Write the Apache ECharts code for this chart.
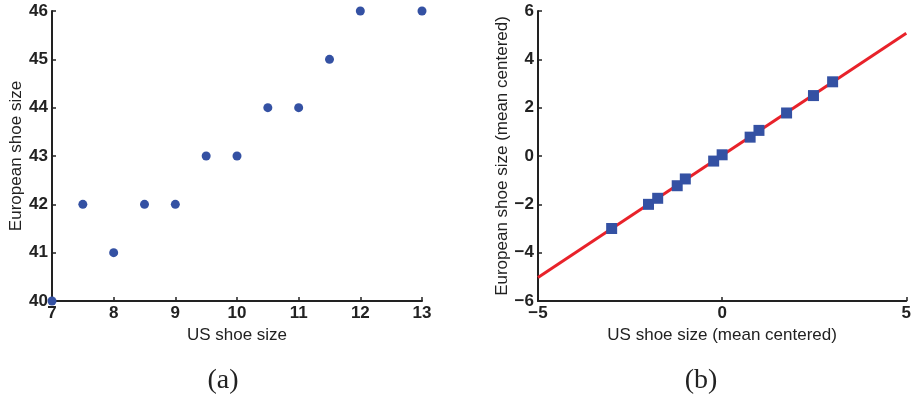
<!DOCTYPE html>
<html>
<head>
<meta charset="utf-8">
<script src="https://cdn.jsdelivr.net/npm/echarts@6/dist/echarts.min.js"></script>
<style>
  html, body { margin: 0; padding: 0; background: #fff; }
  #main { width: 914px; height: 402px; }
</style>
</head>
<body>
<div id="main"></div>
<script>
// Data: panel (a), raw sizes
var usSizes = [7, 7.5, 8, 8.5, 9, 9.5, 10, 10.5, 11, 11.5, 12, 13];
var euSizes = [40, 42, 41, 42, 42, 43, 43, 44, 44, 45, 46, 46];

// Data: panel (b), mean centered
var usCentered = [-3, -2, -1.75, -1.22, -1, -0.23, 0, 0.76, 1, 1.75, 2.48, 3];
var euCentered = [-3, -2, -1.75, -1.23, -0.95, -0.21, 0.05, 0.78, 1.06, 1.78, 2.5, 3.07];

// fitted line end points
var fitX = [-5, 5];
var fitY = [-5.03, 5.08];

var captions = ['(a)', '(b)'];

var myChart,
  ink = '#222',
  blue = '#3451a3';

/**
 * @name pairs
 * @desc zip two arrays into [x, y] points
 */
function pairs(xs, ys) {
  return xs.map(function (x, i) { return [x, ys[i]]; });
}

function minusSign(v) {
  return String(v).replace('-', '\u2212');
}

function makeAxis(gridIndex, min, max, interval, name, nameGap) {
  return {
    type: 'value',
    gridIndex: gridIndex,
    min: min,
    max: max,
    interval: interval,
    name: name,
    nameLocation: 'middle',
    nameGap: nameGap,
    nameTextStyle: {
      fontFamily: 'Liberation Sans',
      fontSize: 17,
      color: ink
    },
    axisLine: { show: true, onZero: false, lineStyle: { color: ink, width: 2 } },
    axisTick: { show: true, inside: true, length: 4, lineStyle: { color: ink, width: 1.5 } },
    axisLabel: {
      margin: 4,
      fontFamily: 'Liberation Sans',
      fontWeight: 'bold',
      fontSize: 17,
      color: ink,
      formatter: minusSign
    },
    splitLine: { show: false }
  };
}

function paint() {
  myChart = echarts.init(document.getElementById('main'));

  var option = {
    animation: false,
    grid: [
      { left: 52, right: 492, top: 11, bottom: 101 },
      { left: 538, right: 6, top: 11, bottom: 101 }
    ],
    xAxis: [
      makeAxis(0, 7, 13, 1, 'US shoe size', 24),
      makeAxis(1, -5, 5, 5, 'US shoe size (mean centered)', 24)
    ],
    yAxis: [
      makeAxis(0, 40, 46, 1, 'European shoe size', 27),
      makeAxis(1, -6, 6, 2, 'European shoe size (mean centered)', 26)
    ],
    graphic: [
      {
        type: 'text',
        x: 223,
        y: 381,
        style: {
          text: captions[0],
          font: '28px "Liberation Serif"',
          fill: ink,
          textAlign: 'center',
          textVerticalAlign: 'middle'
        }
      },
      {
        type: 'text',
        x: 701,
        y: 381,
        style: {
          text: captions[1],
          font: '28px "Liberation Serif"',
          fill: ink,
          textAlign: 'center',
          textVerticalAlign: 'middle'
        }
      }
    ],
    series: [
      {
        type: 'scatter',
        xAxisIndex: 0,
        yAxisIndex: 0,
        symbol: 'circle',
        symbolSize: 9,
        clip: false,
        itemStyle: { color: blue, opacity: 1 },
        data: pairs(usSizes, euSizes)
      },
      {
        type: 'line',
        xAxisIndex: 1,
        yAxisIndex: 1,
        symbol: 'none',
        z: 1,
        lineStyle: { color: '#e8222a', width: 3 },
        data: pairs(fitX, fitY)
      },
      {
        type: 'scatter',
        xAxisIndex: 1,
        yAxisIndex: 1,
        symbol: 'rect',
        symbolSize: 11,
        z: 3,
        itemStyle: { color: blue, opacity: 1 },
        data: pairs(usCentered, euCentered)
      }
    ]
  };

  myChart.setOption(option);
}

paint();
</script>
</body>
</html>
